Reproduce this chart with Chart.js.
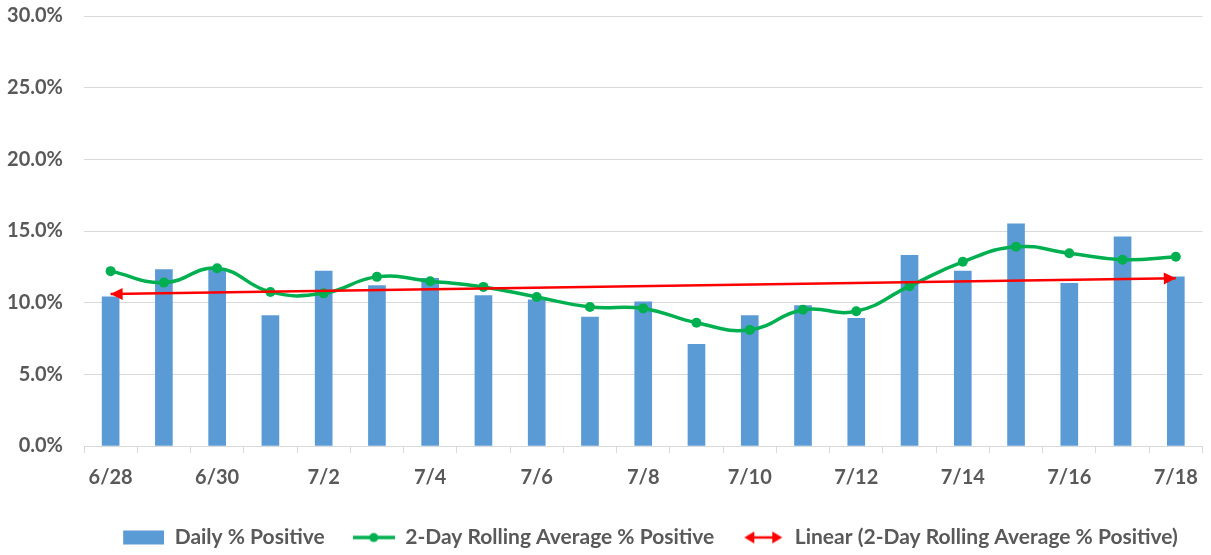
<!DOCTYPE html>
<html>
<head>
<meta charset="utf-8">
<script src="https://cdn.jsdelivr.net/npm/chart.js@4"></script>
<style>
  html, body { margin: 0; padding: 0; background: #fff; }
  #wrap { width: 1211px; height: 555px; position: relative; }
</style>
</head>
<body>
<div id="wrap"><canvas id="positive-chart"></canvas></div>
<script>
// values (percent)
const days = ["6/28", "6/29", "6/30", "7/1", "7/2", "7/3", "7/4", "7/5", "7/6", "7/7", "7/8",
              "7/9", "7/10", "7/11", "7/12", "7/13", "7/14", "7/15", "7/16", "7/17", "7/18"];
const dailyPositive = [10.4, 12.3, 12.4, 9.1, 12.2, 11.2, 11.7, 10.5, 10.2, 9.0, 10.05,
                       7.1, 9.1, 9.8, 8.9, 13.3, 12.2, 15.5, 11.35, 14.6, 11.8];
const rollingAverage = [12.2, 11.4, 12.4, 10.75, 10.65, 11.8, 11.5, 11.1, 10.4, 9.7, 9.6,
                        8.6, 8.1, 9.5, 9.4, 11.15, 12.85, 13.9, 13.45, 13.0, 13.2];
const trendEnds = [10.6, 11.7];
const yTicks = [0, 5, 10, 15, 20, 25, 30];

const grey = "#595959";
const blue = "#5b9bd5";
const green = "#00b050";
const red = "#ff0000";
const tickFont = { family: "Lato", weight: "bold", size: 20 };
const legendFont = { family: "Lato", weight: "bold", size: 21 };

// little legend pictures
function icon(draw) {
  const c = document.createElement("canvas");
  c.width = 42; c.height = 16;
  draw(c.getContext("2d"));
  return c;
}
const barIcon = icon(ctx => { ctx.fillStyle = blue; ctx.fillRect(1, 1, 41, 14); });
const lineIcon = icon(ctx => {
  ctx.strokeStyle = green; ctx.lineWidth = 3.5;
  ctx.beginPath(); ctx.moveTo(0, 8); ctx.lineTo(42, 8); ctx.stroke();
  ctx.fillStyle = green; ctx.beginPath(); ctx.arc(21, 8, 4.5, 0, Math.PI * 2); ctx.fill();
});
const arrowIcon = icon(ctx => {
  ctx.strokeStyle = red; ctx.lineWidth = 2.5;
  ctx.beginPath(); ctx.moveTo(8, 8); ctx.lineTo(34, 8); ctx.stroke();
  ctx.fillStyle = red;
  ctx.beginPath(); ctx.moveTo(2, 8); ctx.lineTo(12, 2); ctx.lineTo(12, 14); ctx.fill();
  ctx.beginPath(); ctx.moveTo(40, 8); ctx.lineTo(30, 2); ctx.lineTo(30, 14); ctx.fill();
});

// arrowheads on both ends of the trend line
const arrowHeads = {
  id: "arrowHeads",
  afterDatasetsDraw(chart) {
    const pts = chart.getDatasetMeta(2).data;
    if (pts.length < 2) return;
    const a = pts[0], b = pts[pts.length - 1];
    const ang = Math.atan2(b.y - a.y, b.x - a.x);
    const ctx = chart.ctx;
    ctx.save();
    ctx.fillStyle = red;
    [[a, ang + Math.PI], [b, ang]].forEach(([p, t]) => {
      ctx.beginPath();
      ctx.moveTo(p.x, p.y);
      ctx.lineTo(p.x - 12 * Math.cos(t) - 6 * Math.sin(t), p.y - 12 * Math.sin(t) + 6 * Math.cos(t));
      ctx.lineTo(p.x - 12 * Math.cos(t) + 6 * Math.sin(t), p.y - 12 * Math.sin(t) - 6 * Math.cos(t));
      ctx.closePath();
      ctx.fill();
    });
    ctx.restore();
  }
};

// legend sits a bit right of centre, as in the original
const legendShift = {
  id: "legendShift",
  afterLayout(chart) {
    const lg = chart.legend;
    lg.left += 46; lg.right += 46;
    lg.top += 3; lg.bottom += 3;
  }
};

new Chart(document.getElementById("positive-chart"), {
  data: {
    labels: days,
    datasets: [
      {
        type: "bar",
        label: "Daily % Positive",
        data: dailyPositive,
        backgroundColor: blue,
        barThickness: 17,
        order: 3
      }, {
        type: "line",
        label: "2-Day Rolling Average % Positive",
        data: rollingAverage,
        borderColor: green,
        backgroundColor: green,
        borderWidth: 3.5,
        pointRadius: 5,
        pointBackgroundColor: green,
        pointBorderWidth: 0,
        tension: 0.45,
        order: 2
      }, {
        type: "line",
        label: "Linear (2-Day Rolling Average % Positive)",
        data: [{ x: days[0], y: trendEnds[0] }, { x: days[days.length - 1], y: trendEnds[1] }],
        borderColor: red,
        borderWidth: 2.5,
        pointRadius: 0,
        order: 1
      }
    ]
  },
  options: {
    responsive: true,
    maintainAspectRatio: false,
    animation: false,
    layout: { padding: { top: 0, right: 3, left: 0, bottom: 0 } },
    plugins: {
      tooltip: { enabled: false },
      legend: {
        position: "bottom",
        labels: {
          color: grey,
          font: legendFont,
          usePointStyle: true,
          pointStyleWidth: 42,
          padding: 28,
          generateLabels(chart) {
            const icons = [barIcon, lineIcon, arrowIcon];
            return chart.data.datasets.map((ds, i) => ({
              text: ds.label,
              fontColor: grey,
              pointStyle: icons[i],
              datasetIndex: i,
              lineWidth: 0,
              strokeStyle: "transparent",
              fillStyle: "transparent"
            }));
          }
        }
      }
    },
    scales: {
      x: {
        offset: true,
        grid: { offset: true, drawOnChartArea: false, drawTicks: true, tickLength: 7, color: "#d9d9d9" },
        border: { color: "#d9d9d9" },
        ticks: {
          color: grey,
          font: tickFont,
          autoSkip: false,
          maxRotation: 0,
          padding: 13,
          callback: (v, i) => (i % 2 === 0 ? days[i] : "")
        },
        afterFit(scale) { scale.height = 50; }
      },
      y: {
        min: 0,
        max: 30,
        afterBuildTicks(scale) { scale.ticks = yTicks.map(v => ({ value: v })); },
        grid: { color: "#d9d9d9", drawTicks: true, tickLength: 17, tickColor: "transparent" },
        border: { display: false },
        ticks: {
          color: grey,
          font: tickFont,
          padding: 4,
          callback: v => v.toFixed(1) + "%"
        },
        afterFit(scale) { scale.width = 84; }
      }
    }
  },
  plugins: [arrowHeads, legendShift]
});
</script>
</body>
</html>
